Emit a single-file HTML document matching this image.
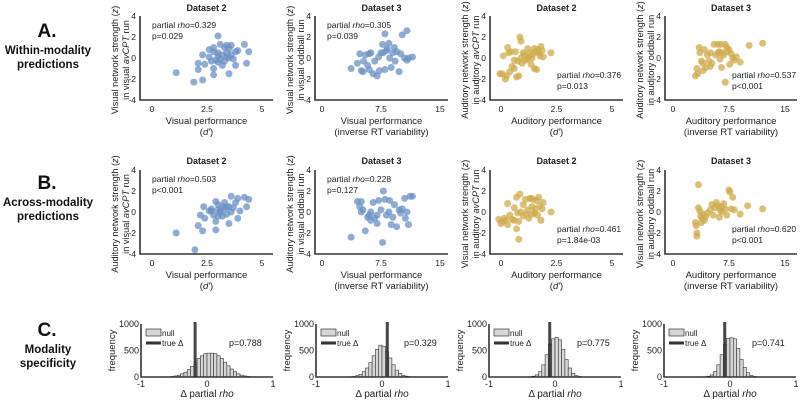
<!DOCTYPE html>
<html><head><meta charset="utf-8"><style>
html,body{margin:0;padding:0;background:#fff;}
svg{display:block;font-family:"Liberation Sans",sans-serif;}
</style></head><body>
<svg id="fig" width="800" height="402" viewBox="0 0 800 402" xmlns="http://www.w3.org/2000/svg">
<g font-weight="bold" text-anchor="middle" fill="#111">
<text x="47" y="37" font-size="19">A.</text>
<text x="48" y="54" font-size="11.5">Within-modality</text>
<text x="48" y="68" font-size="11.5">predictions</text>
<text x="47" y="189" font-size="19">B.</text>
<text x="48" y="206" font-size="11.5">Across-modality</text>
<text x="48" y="220" font-size="11.5">predictions</text>
<text x="47" y="336" font-size="19">C.</text>
<text x="48" y="353" font-size="11.5">Modality</text>
<text x="48" y="367" font-size="11.5">specificity</text>
</g>
</svg>
<script>
// ---- scatter data ----
const a1x=[1.1,1.9,2.3,2.1,2.1,2.3,2.4,2.6,2.6,2.8,2.8,2.8,2.8,2.9,3.0,3.0,3.0,3.1,3.1,3.2,3.2,3.3,3.3,3.4,3.4,3.5,3.5,3.5,3.6,3.6,3.7,3.8,3.8,3.9,4.2,4.3,4.4,3.0,2.7,3.4];
const a1y=[-1.4,-2.3,-2.1,-0.5,-1.1,0.3,-0.6,0.8,0.1,0.6,1.0,-1.0,-1.6,-0.2,2.1,0.5,-0.4,-0.1,1.3,-0.7,0.3,1.0,-0.3,1.2,0.5,0.9,0.0,-1.5,1.2,0.3,-0.1,0.6,-0.7,0.7,1.3,-0.5,0.6,0.2,-0.3,0.1];
const a2x=[3.7,4.5,4.8,5,5.2,5.5,5.8,6,6.2,6.5,6.7,7,7.2,7.5,7.7,7.8,8,8,8.2,8.5,8.6,8.8,9,9.2,9.5,9.8,10,10.2,10.5,10.8,11,11.5,10.8,6,7.3,9.3,5.3,8.3];
const a2y=[-1.0,-0.5,0.4,-1.2,-1.3,0.3,-0.7,-1.1,0.5,-1.5,-0.3,-1.7,0.1,0.5,1.3,0.5,2.3,-1.1,0.7,1.4,0,-0.9,0.5,1.0,0.6,-1.3,0.4,2.2,0.0,-0.2,0.0,0.1,2.6,0.4,-1.2,-0.3,-0.3,0.9];
const a3x=[-0.05,0.05,0.1,0.2,0.25,0.3,0.35,0.4,0.45,0.5,0.6,0.65,0.7,0.75,0.8,0.85,0.9,0.9,0.95,1.0,1.05,1.1,1.2,1.25,1.3,1.35,1.4,1.45,1.5,1.5,1.55,1.6,1.65,1.7,1.75,1.8,1.85,1.9,2.25,0.6,1.2];
const a3y=[-1.5,-1.5,0.2,-2.0,-1.7,1.0,0.5,-1.3,0.6,-0.8,-0.2,0.6,-1.8,-0.3,-1.7,2.0,1.6,0.0,-0.5,0.5,0.3,-0.2,0.9,0.1,0.5,-0.6,0.0,0.4,0.9,-1.0,0.6,-1.1,0.8,0.5,0.2,1.1,0.7,0.1,0.5,-1.0,-0.1];
const a4x=[3.0,3.2,3.3,3.5,3.6,3.8,4.0,4.0,4.2,4.4,4.6,4.8,5.0,5.2,5.5,5.7,6.0,6.1,6.2,6.3,6.4,6.5,6.6,6.8,7.0,7.0,7.2,7.3,7.5,7.6,7.8,8.0,8.2,8.5,9.0,10.2,12.0,5.0];
const a4y=[-1.7,-1.0,-1.5,1.0,0.5,-0.3,-0.5,-1.2,0.8,-0.9,0.3,-0.3,-0.8,-0.5,1.3,0.3,1.3,0.5,0.6,-0.1,1.3,-0.9,0.5,0.3,1.3,-2.3,1.0,0.6,0.8,-0.6,0.4,0.0,-0.2,0.1,-0.4,1.2,1.4,0.5];
const b1x=[1.1,1.95,2.1,2.2,2.3,2.35,2.4,2.6,2.7,2.8,2.9,2.9,2.9,3.0,3.0,3.1,3.1,3.2,3.2,3.3,3.3,3.4,3.4,3.5,3.5,3.6,3.6,3.7,3.8,3.9,3.9,4.0,4.2,4.3,4.4,3.0,2.7];
const b1y=[-2.0,-3.6,-1.3,-0.3,-1.8,0.5,-0.6,0.1,0.3,-0.3,1.0,-0.9,-1.7,0.7,-0.4,0.1,-0.1,0.5,-0.4,0.9,0.3,-0.2,0.5,0.5,-1.1,1.5,0.0,0.4,0.9,1.3,-0.6,0.1,1.4,0.5,1.2,0.2,0.1];
const b2x=[3.7,4.5,4.8,5.0,5.0,5.2,5.5,5.8,6.0,6.2,6.5,6.7,7.0,7.0,7.2,7.5,7.7,7.8,8.0,8.2,8.5,8.6,8.8,9.0,9.2,9.5,9.8,10.0,10.2,10.5,10.8,11.0,11.2,11.5,10.6,6.2];
const b2y=[-2.4,1.0,0.5,0.0,1.0,0.2,-1.8,-0.5,-0.3,-0.8,0.9,-0.6,-0.3,-1.1,1.1,0.2,-2.9,2.0,1.2,-0.3,0.0,1.1,-1.2,-0.5,0.7,-1.4,0.2,-0.1,0.3,1.3,0.0,-1.2,1.5,1.5,-0.6,0.0];
const b3x=[-0.1,0.0,0.05,0.15,0.2,0.3,0.3,0.4,0.5,0.6,0.6,0.7,0.7,0.75,0.8,0.8,0.85,0.9,1.0,1.0,1.1,1.15,1.2,1.25,1.3,1.35,1.4,1.45,1.5,1.55,1.6,1.65,1.7,1.75,1.8,1.85,1.9,2.25,1.4];
const b3y=[-0.7,-1.1,-0.9,-0.6,-0.8,0.8,-1.2,-0.3,-0.7,0.4,-0.8,1.4,-1.6,-0.1,-2.6,-0.9,1.7,0.0,0.7,-0.4,1.2,-0.2,0.2,-0.6,1.3,1.3,0.5,1.2,-0.1,0.3,1.1,-0.3,1.4,0.6,-0.8,0.3,0.9,0.0,-0.2];
const b4x=[3.0,3.1,3.2,3.2,3.4,3.4,3.6,3.7,3.8,3.9,4.0,4.2,4.4,4.6,5.0,5.2,5.4,5.6,5.8,6.0,6.2,6.3,6.5,6.8,7.0,7.2,7.5,7.6,7.8,8.0,8.2,9.0,10.0,12.0,6.5];
const b4y=[-1.0,-1.3,-2.0,-2.3,2.6,0.4,0.1,-0.4,-1.0,-0.6,-0.2,-0.8,-0.4,-0.1,0.2,0.7,-0.3,0.4,0.9,0.6,-0.5,0.2,0.0,0.8,0.3,-0.3,2.1,1.9,0.3,1.4,0.2,-0.2,0.6,0.3,0.5];
const yTicks=[-4,-2,0,2,4];
const xTicksD=[0,2.5,5];
const xTicksRT=[0,7.5,15];
// ---- histogram data ----
const h1=[5,10,20,35,60,90,140,200,270,350,400,440,450,450,440,400,350,280,210,150,100,60,35,20,10,5];
const h2=[5,10,25,50,100,170,270,400,520,600,580,480,360,230,130,70,30,15,5,3];
const h3=[5,15,40,100,230,420,620,720,750,700,520,330,170,70,25,10];
const h4=[5,15,40,100,230,420,620,730,740,720,540,330,180,80,30,10];
const hStart=[-0.6,-0.5,-0.4,-0.4];
const trueDelta=[-0.18,0.08,-0.08,-0.08];
const pvals=["p=0.788","p=0.329","p=0.775","p=0.741"];
const hTicksX=[-1,0,1];
const hTicksY=[0,500,1000];

const NS="http://www.w3.org/2000/svg";
const svg=document.getElementById('fig');
function mk(tag,attrs,parent){const e=document.createElementNS(NS,tag);for(const k in attrs)e.setAttribute(k,attrs[k]);(parent||svg).appendChild(e);return e;}
function txt(s,x,y,attrs,parent){const t=mk('text',Object.assign({x:x,y:y,'font-size':9,fill:'#222'},attrs||{}),parent);t.innerHTML=s;return t;}

const cols=[{L:140,R:273,x0:152,x1:262,v1:5},{L:315,R:448,x0:322,x1:440,v1:15},{L:490,R:623,x0:501,x1:612,v1:5},{L:665,R:797,x0:673,x1:785,v1:15}];
const BLUE='#6b90c4',GOLD='#cfab4e';
const panels=[
 {r:0,c:0,xs:a1x,ys:a1y,col:BLUE,title:'Dataset 2',yl:['Visual network strength (<tspan font-style="italic">z</tspan>)','in visual <tspan font-style="italic">avCPT</tspan> run'],xl:['Visual performance','(<tspan font-style="italic">d\'</tspan>)'],st:['partial <tspan font-style="italic">rho</tspan>=0.329','p=0.029'],pos:'tl'},
 {r:0,c:1,xs:a2x,ys:a2y,col:BLUE,title:'Dataset 3',yl:['Visual network strength (<tspan font-style="italic">z</tspan>)','in visual oddball run'],xl:['Visual performance','(inverse RT variability)'],st:['partial <tspan font-style="italic">rho</tspan>=0.305','p=0.039'],pos:'tl'},
 {r:0,c:2,xs:a3x,ys:a3y,col:GOLD,title:'Dataset 2',yl:['Auditory network strength (<tspan font-style="italic">z</tspan>)','in auditory <tspan font-style="italic">avCPT</tspan> run'],xl:['Auditory performance','(<tspan font-style="italic">d\'</tspan>)'],st:['partial <tspan font-style="italic">rho</tspan>=0.376','p=0.013'],pos:'br'},
 {r:0,c:3,xs:a4x,ys:a4y,col:GOLD,title:'Dataset 3',yl:['Auditory network strength (<tspan font-style="italic">z</tspan>)','in auditory oddball run'],xl:['Auditory performance','(inverse RT variability)'],st:['partial <tspan font-style="italic">rho</tspan>=0.537','p&lt;0.001'],pos:'br'},
 {r:1,c:0,xs:b1x,ys:b1y,col:BLUE,title:'Dataset 2',yl:['Auditory network strength (<tspan font-style="italic">z</tspan>)','in visual <tspan font-style="italic">avCPT</tspan> run'],xl:['Visual performance','(<tspan font-style="italic">d\'</tspan>)'],st:['partial <tspan font-style="italic">rho</tspan>=0.503','p&lt;0.001'],pos:'tl'},
 {r:1,c:1,xs:b2x,ys:b2y,col:BLUE,title:'Dataset 3',yl:['Auditory network strength (<tspan font-style="italic">z</tspan>)','in visual oddball run'],xl:['Visual performance','(inverse RT variability)'],st:['partial <tspan font-style="italic">rho</tspan>=0.228','p=0.127'],pos:'tl'},
 {r:1,c:2,xs:b3x,ys:b3y,col:GOLD,title:'Dataset 2',yl:['Visual network strength (<tspan font-style="italic">z</tspan>)','in auditory <tspan font-style="italic">avCPT</tspan> run'],xl:['Auditory performance','(<tspan font-style="italic">d\'</tspan>)'],st:['partial <tspan font-style="italic">rho</tspan>=0.461','p=1.84e-03'],pos:'br'},
 {r:1,c:3,xs:b4x,ys:b4y,col:GOLD,title:'Dataset 3',yl:['Visual network strength (<tspan font-style="italic">z</tspan>)','in auditory oddball run'],xl:['Auditory performance','(inverse RT variability)'],st:['partial <tspan font-style="italic">rho</tspan>=0.620','p&lt;0.001'],pos:'br'}
];
const rows=[{T:16,B:100,tY:13},{T:170,B:254,tY:166}];

panels.forEach((p,i)=>{
 const C=cols[p.c],Rw=rows[p.r];
 const g=mk('g',{});
 
 
 const sx=v=>C.x0+(v/C.v1)*(C.x1-C.x0);
 const sy=v=>Rw.B-(v+4)/8*(Rw.B-Rw.T);
 const t=txt(p.title,(C.L+C.R)/2,Rw.tY-2,{'font-weight':'bold','text-anchor':'middle','font-size':9},g);
 
 
 p.xs.forEach((xv,j)=>{
  const c=mk('circle',{cx:sx(xv),cy:sy(p.ys[j]),r:3.5,fill:p.col,'fill-opacity':0.75},g);
  
  
 });
 const ax=mk('path',{d:`M${C.L} ${Rw.T}V${Rw.B}H${C.R}`,stroke:'#333','stroke-width':1.6,fill:'none'},g);
 
 
 yTicks.forEach(v=>{const tt=txt(String(v),C.L-4,sy(v)+3,{'text-anchor':'end','font-size':8.5},g);
  
  });
 (C.v1===5?xTicksD:xTicksRT).forEach(v=>{const tt=txt(String(v),sx(v),Rw.B+12,{'text-anchor':'middle','font-size':8.5},g);
  
  });
 const xl1=txt(p.xl[0],(C.L+C.R)/2,Rw.B+24,{'text-anchor':'middle','font-size':9.5},g);
 
 
 const xl2=txt(p.xl[1],(C.L+C.R)/2,Rw.B+35,{'text-anchor':'middle','font-size':9.5},g);
 
 
 const cy=(Rw.T+Rw.B)/2+2;
 const yl1=txt(p.yl[0],0,0,{'text-anchor':'middle','font-size':9.2,transform:`translate(${C.L-22},${cy}) rotate(-90)`},g);
 
 
 const yl2=txt(p.yl[1],0,0,{'text-anchor':'middle','font-size':9.2,transform:`translate(${C.L-11},${cy}) rotate(-90)`},g);
 
 
 let sxp,syp;
 if(p.pos==='tl'){sxp=C.L+12;syp=Rw.T+12;}else{sxp=C.L+67;syp=Rw.T+62;}
 const s1=txt(p.st[0],sxp,syp,{'font-size':8.5},g);
 
 
 const s2=txt(p.st[1],sxp,syp+11,{'font-size':8.5},g);
 
 
});

const hists=[h1,h2,h3,h4];
const HC=[{L:141},{L:316},{L:489},{L:664}];
const HT=324,HB=377,HW=132,BW=0.05;
hists.forEach((h,i)=>{
 const L=HC[i].L,R=L+HW;
 const sx=v=>L+(v+1)/2*HW;
 const sy=v=>HB-v/1000*(HB-HT);
 const g=mk('g',{});
 
 
 h.forEach((v,j)=>{
  const x0=sx(hStart[i]+j*BW),x1=sx(hStart[i]+(j+1)*BW);
  const b=mk('rect',{x:x0,y:sy(v),width:x1-x0,height:HB-sy(v),fill:'#d6d6d6',stroke:'#333','stroke-width':0.6},g);
  
  
 });
 const tl=mk('line',{x1:sx(trueDelta[i]),x2:sx(trueDelta[i]),y1:HB,y2:HT-2,stroke:'#333','stroke-width':3,'stroke-opacity':0.9},g);
 
 
 const ax=mk('path',{d:`M${L} ${HT}V${HB}H${R}`,stroke:'#333','stroke-width':1.6,fill:'none'},g);
 
 
 hTicksY.forEach(v=>{const t=txt(String(v),L-2,sy(v)+3,{'text-anchor':'end','font-size':9},g);
  
  });
 hTicksX.forEach(v=>{const t=txt(String(v),sx(v),HB+10,{'text-anchor':'middle','font-size':9},g);
  
  });
 const xt=txt('Δ partial <tspan font-style="italic">rho</tspan>',(L+R)/2,HB+20,{'text-anchor':'middle','font-size':10},g);
 
 
 const yt=txt('frequency',0,0,{'text-anchor':'middle','font-size':9.5,transform:`translate(${L-26},${(HT+HB)/2}) rotate(-90)`},g);
 
 
 const lb=mk('rect',{x:L+5,y:HT+5,width:15,height:7,fill:'#d6d6d6',stroke:'#333','stroke-width':0.7},g);
 
 
 const ln=txt('null',L+21,HT+12,{'font-size':8},g);
 
 
 const ll=mk('line',{x1:L+5,x2:L+20,y1:HT+19,y2:HT+19,stroke:'#333','stroke-width':3},g);
 
 
 const lt=txt('true Δ',L+21,HT+22,{'font-size':8},g);
 
 
 const pt=txt(pvals[i],L+88,HT+22,{'font-size':9},g);
 
 
});
</script>
</body></html>
